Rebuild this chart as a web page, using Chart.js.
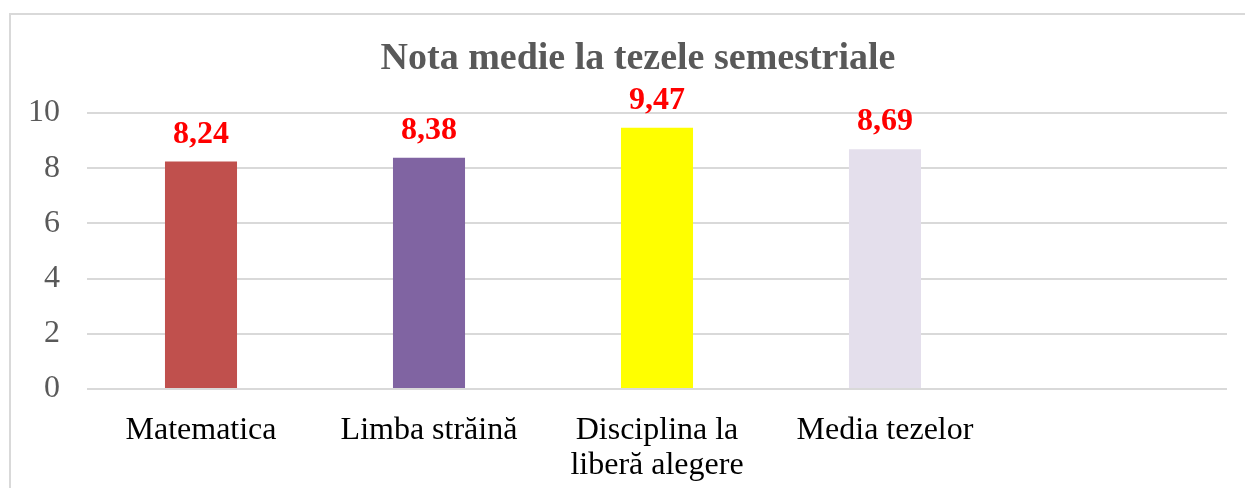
<!DOCTYPE html>
<html>
<head>
<meta charset="utf-8">
<script src="https://cdn.jsdelivr.net/npm/chart.js@4"></script>
<style>
  html, body { margin: 0; padding: 0; background: #fff; overflow: hidden; }
  #wrap { position: relative; width: 1245px; height: 488px; }
  #frame { position: absolute; left: 9px; top: 13px; width: 1300px; height: 500px;
           border: 2px solid #d9d9d9; box-sizing: border-box; }
  canvas { position: absolute; left: 0; top: 0; }
</style>
</head>
<body>
<div id="wrap">
  <div id="frame"></div>
  <canvas id="myChart" width="1245" height="488"></canvas>
</div>
<script>
// categorii si valori
var titlu = "Nota medie la tezele semestriale";
var categorii = ["Matematica", "Limba străină", ["Disciplina la", "liberă alegere"], "Media tezelor", ""];
var note = [8.24, 8.38, 9.47, 8.69, null];
var culori = ["#C0504D", "#8064A2", "#FFFF00", "#E4DFEC", "#ffffff"];
var yTicks = [0, 2, 4, 6, 8, 10];

var FONT = "'Liberation Serif', 'Times New Roman', serif";

// titlul, centrat ca in Excel (usor spre dreapta)
var titluGrafic = {
    id: "titluGrafic",
    afterDraw: function(chart) {
        var ctx = chart.ctx;
        ctx.save();
        ctx.font = "bold 38px " + FONT;
        ctx.fillStyle = "#595959";
        ctx.textAlign = "center";
        ctx.textBaseline = "alphabetic";
        ctx.fillText(titlu, 638, 69);
        ctx.restore();
    }
};

// etichete rosii deasupra barelor
var eticheteValori = {
    id: "eticheteValori",
    afterDatasetsDraw: function(chart) {
        var ctx = chart.ctx;
        var meta = chart.getDatasetMeta(0);
        ctx.save();
        ctx.font = "bold 32px " + FONT;
        ctx.fillStyle = "#FF0000";
        ctx.textAlign = "center";
        ctx.textBaseline = "alphabetic";
        meta.data.forEach(function(bar, i) {
            var v = note[i];
            if (v === null) return;
            ctx.fillText(v.toFixed(2).replace(".", ","), bar.x, bar.y - 19);
        });
        ctx.restore();
    }
};

var ctx = document.getElementById("myChart").getContext("2d");
var myChart = new Chart(ctx, {
    type: "bar",
    data: {
        labels: categorii,
        datasets: [{
            data: note,
            backgroundColor: culori,
            borderWidth: 0,
            categoryPercentage: 1,
            barPercentage: 0.316
        }]
    },
    options: {
        responsive: false,
        animation: false,
        layout: { padding: { left: 20, right: 18, top: 113, bottom: 0 } },
        plugins: {
            legend: { display: false },
            tooltip: { enabled: false },
            title: { display: false }
        },
        scales: {
            x: {
                grid: { display: false },
                border: { display: false },
                ticks: {
                    color: "#000000",
                    font: { family: FONT, size: 32, lineHeight: 1.1 },
                    padding: 16,
                    maxRotation: 0,
                    autoSkip: false
                },
                afterFit: function(scale) { scale.height = 99; }
            },
            y: {
                min: 0,
                max: 10,
                afterBuildTicks: function(scale) {
                    scale.ticks = yTicks.map(function(v) { return { value: v }; });
                },
                grid: { color: "#d9d9d9", lineWidth: 2, drawTicks: false },
                border: { display: false },
                ticks: {
                    color: "#595959",
                    font: { family: FONT, size: 32 },
                    padding: 27
                },
                afterFit: function(scale) { scale.width = 67; }
            }
        }
    },
    plugins: [eticheteValori, titluGrafic]
});
</script>
</body>
</html>
